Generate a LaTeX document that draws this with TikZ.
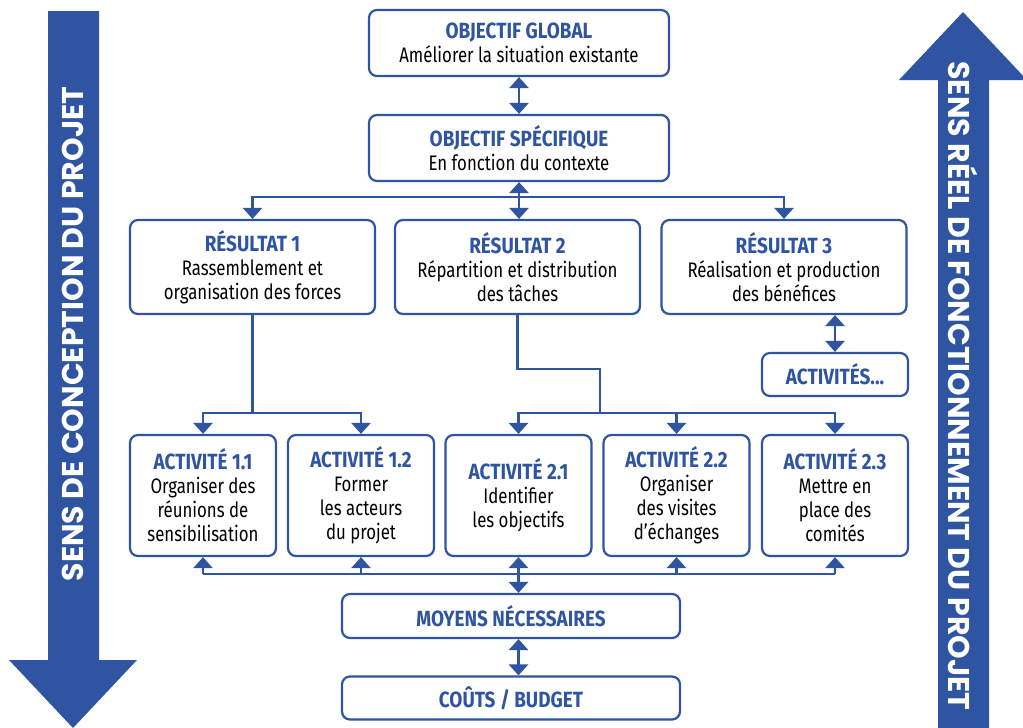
\documentclass[tikz,border=0pt]{standalone}
\usepackage{fontspec}
\setmainfont{Fira Sans}[FakeStretch=0.8]
\newfontfamily\titlefont{Fira Sans}[FakeStretch=0.86]
\newfontfamily\sidefont{Poppins}
\usetikzlibrary{arrows.meta,calc}
\definecolor{bl}{RGB}{46,84,162}
\newcommand\boxtitle[1]{{\color{bl}\titlefont\bfseries\fontsize{22}{24}\selectfont #1}}
\begin{document}
\begin{tikzpicture}[x=1pt,y=-1pt,
  box/.style={draw=bl, line width=2.2pt, rounded corners=8pt, fill=white, align=center,
    font=\fontsize{21}{24}\selectfont, inner sep=0pt},
  conn/.style={draw=bl, line width=2.6pt},
  tip/.tip={Triangle[width=19pt,length=11pt]},
  arr/.style={conn, -tip},
  dbl/.style={conn, tip-tip},
  side/.style={text=white, font=\sidefont\bfseries\fontsize{30}{34}\selectfont, inner sep=0pt}]
\useasboundingbox (0,0) rectangle (1023,728);
\fill[white] (0,0) rectangle (1023,728);
% side arrows
\fill[bl] (48,11) -- (99,11) -- (99,660) -- (137,660) -- (73,728) -- (9,660) -- (48,660) -- cycle;
\fill[bl] (938,728) -- (938,80) -- (899,80) -- (963,12) -- (1027,80) -- (989,80) -- (989,728) -- cycle;
\node[side, rotate=90] (lt) at (73,334) {SENS DE CONCEPTION DU PROJET};
\node[side, rotate=-90] (rt) at (963,386) {SENS RÉEL DE FONCTIONNEMENT DU PROJET};
% boxes
\node[box, minimum width=300pt, minimum height=66pt] (og) at (519,43)
  {\boxtitle{OBJECTIF GLOBAL}\\Améliorer la situation existante};
\node[box, minimum width=300pt, minimum height=66pt] (os) at (519,148)
  {\boxtitle{OBJECTIF SPÉCIFIQUE}\\En fonction du contexte};
\node[box, minimum width=245pt, minimum height=94pt] (r1) at (252.5,267)
  {\boxtitle{RÉSULTAT 1}\\Rassemblement et\\organisation des forces};
\node[box, minimum width=245pt, minimum height=94pt] (r2) at (517.5,267)
  {\boxtitle{RÉSULTAT 2}\\Répartition et distribution\\des tâches};
\node[box, minimum width=245pt, minimum height=94pt] (r3) at (784,267)
  {\boxtitle{RÉSULTAT 3}\\Réalisation et production\\des bénéfices};
\node[box, minimum width=146pt, minimum height=43pt] (act) at (835,374.5)
  {\boxtitle{ACTIVITÉS...}};
\node[box, minimum width=146pt, minimum height=121pt] (a11) at (203,495.5)
  {\boxtitle{ACTIVITÉ 1.1}\\Organiser des\\réunions de\\sensibilisation};
\node[box, minimum width=146pt, minimum height=121pt] (a12) at (361,495.5)
  {\boxtitle{ACTIVITÉ 1.2}\\Former\\les acteurs\\du projet};
\node[box, minimum width=146pt, minimum height=121pt] (a21) at (518.5,495.5)
  {\boxtitle{ACTIVITÉ 2.1}\\Identifier\\les objectifs};
\node[box, minimum width=146pt, minimum height=121pt] (a22) at (676.5,495.5)
  {\boxtitle{ACTIVITÉ 2.2}\\Organiser\\des visites\\d’échanges};
\node[box, minimum width=146pt, minimum height=121pt] (a23) at (835,495.5)
  {\boxtitle{ACTIVITÉ 2.3}\\Mettre en\\place des\\comités};
\node[box, minimum width=338pt, minimum height=44pt] (moy) at (511,616)
  {\boxtitle{MOYENS NÉCESSAIRES}};
\node[box, minimum width=338pt, minimum height=43pt] (cout) at (511,698)
  {\boxtitle{COÛTS / BUDGET}};
% helper coordinates
\coordinate (ybus) at (0,197);
\coordinate (yact) at (0,413);
\coordinate (k2) at (600,369);
\coordinate (j2) at (600,413);
\coordinate (ybot) at (0,574);
% connectors
\draw[dbl] (og.south) -- (os.north);
\draw[dbl] (os.south) -- (os.south |- r2.north);
\draw[arr] (os.south |- ybus) -| (r1.north);
\draw[arr] (os.south |- ybus) -| (r3.north);
\draw[dbl] (act.north |- r3.south) -- (act.north);
\draw[conn] (r1.south) -- (r1.south |- yact);
\draw[arr] (r1.south |- yact) -| (a11.north);
\draw[arr] (r1.south |- yact) -| (a12.north);
\draw[conn] (r2.south) |- (k2) -- (j2);
\draw[arr] (j2) -| (a21.north);
\draw[arr] (j2) -| (a23.north);
\draw[arr] (a22.north |- j2) -- (a22.north);
\draw[conn] (a11.south |- ybot) -- (a23.south |- ybot);
\draw[arr] (a11.south |- ybot) -- (a11.south);
\draw[arr] (a12.south |- ybot) -- (a12.south);
\draw[arr] (a22.south |- ybot) -- (a22.south);
\draw[arr] (a23.south |- ybot) -- (a23.south);
\draw[dbl] (a21.south) -- (a21.south |- moy.north);
\draw[dbl] (a21.south |- moy.south) -- (a21.south |- cout.north);
\end{tikzpicture}
\end{document}
